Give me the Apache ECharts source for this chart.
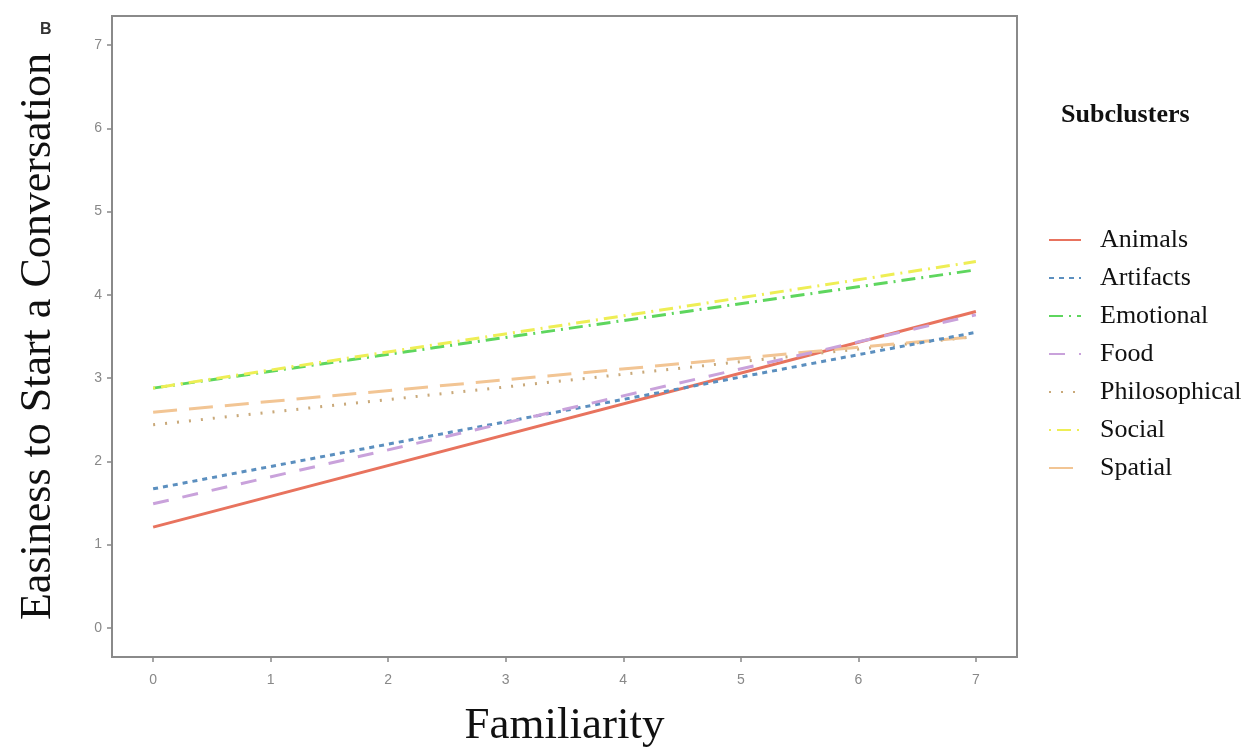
<!DOCTYPE html>
<html><head><meta charset="utf-8">
<script src="https://cdn.jsdelivr.net/npm/echarts@6/dist/echarts.min.js"></script>
<style>html,body{margin:0;padding:0;background:#fff}#c{width:1252px;height:747px}</style>
</head><body><div id="c"></div>
<script>
const xEnds = [0, 7];
const seriesNames = ['Animals','Artifacts','Emotional','Food','Philosophical','Social','Spatial'];
const startValues = [1.21, 1.67, 2.88, 1.49, 2.44, 2.88, 2.59];
const endValues   = [3.80, 3.55, 4.30, 3.76, 3.50, 4.40, 3.50];
const tickValues = [0,1,2,3,4,5,6,7];

const colors = ['#E8735E','#5B8FBF','#5ED65E','#C9A2DB','#C9A97A','#EEEE55','#F2C594'];
const dashes = ['solid',[5,5],[14,6,2,6],[16,14],[2,10],[2,6,14,6],[24,12]];

const series = seriesNames.map((n,i)=>({
  name:n, type:'line', showSymbol:false, symbol:'none',
  data: xEnds.map((x,j)=>[x, j===0?startValues[i]:endValues[i]]),
  lineStyle:{color:colors[i], width:3, type:dashes[i]},
  itemStyle:{color:colors[i]},
  z: [2,3,2,3,2,3,2][i]
}));

const chart = echarts.init(document.getElementById('c'));
const axisCommon = {
  type:'value', min:-0.35, max:7.35,
  splitLine:{show:false},
  axisLine:{show:false, onZero:false},
  axisTick:{show:true, customValues:tickValues, length:5, lineStyle:{color:'#888', width:1.5}},
  axisLabel:{customValues:tickValues, color:'#888', fontSize:14, fontFamily:'Liberation Sans'}
};
chart.setOption({
  animation:false,
  backgroundColor:'#fff',
  title:[
    {text:'B', left:35, top:17, textStyle:{fontFamily:'Liberation Sans', fontWeight:'bold', fontSize:16, color:'#333'}},
    {text:'Subclusters', left:1056, top:97, textStyle:{fontFamily:'Liberation Serif', fontWeight:'bold', fontSize:26, color:'#111'}}
  ],
  grid:{left:112, right:235, top:16, bottom:90, show:true, borderColor:'#8a8a8a', borderWidth:2, containLabel:false, outerBoundsMode:'none'},
  xAxis:Object.assign({}, axisCommon, {
    axisLabel:Object.assign({}, axisCommon.axisLabel, {margin:16}),
    name:'Familiarity', nameLocation:'middle', nameGap:47,
    nameTextStyle:{fontFamily:'Liberation Serif', fontSize:45, color:'#111'}
  }),
  yAxis:Object.assign({}, axisCommon, {
    axisLabel:Object.assign({}, axisCommon.axisLabel, {margin:10}),
    name:'Easiness to Start a Conversation', nameLocation:'middle', nameGap:52,
    nameTextStyle:{fontFamily:'Liberation Serif', fontSize:44, color:'#111'}
  }),
  legend:{
    orient:'vertical', left:1043, top:221,
    itemWidth:32, itemHeight:14, itemGap:10,
    itemStyle:{opacity:0},
    textStyle:{fontFamily:'Liberation Serif', fontSize:26, lineHeight:28, color:'#111', padding:[0,0,0,14]},
    data:seriesNames
  },
  series
});
</script></body></html>
